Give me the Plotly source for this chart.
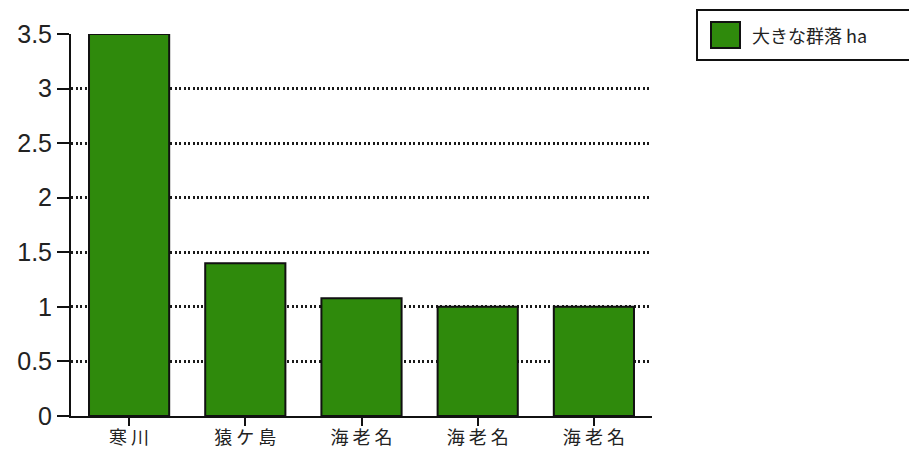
import plotly.graph_objects as go

# Areas of large colonies (ha) by site
sites = ["寒 川", "猿 ケ 島", "海 老 名", "海 老 名", "海 老 名"]
areas_ha = [3.5, 1.4, 1.08, 1.0, 1.0]
series_name = "大きな群落 ha"
y_ticks = [0, 0.5, 1, 1.5, 2, 2.5, 3, 3.5]
y_tick_text = ["0", "0.5", "1", "1.5", "2", "2.5", "3", "3.5"]

GREEN = "#2f8a0c"

fig = go.Figure()
fig.add_trace(go.Bar(
    x=list(range(len(sites))),
    y=areas_ha,
    name=series_name,
    marker=dict(color=GREEN, line=dict(color="#111111", width=2)),
    showlegend=False,
))

fig.update_layout(
    width=909, height=451,
    margin=dict(l=71, r=257, t=34, b=35),
    paper_bgcolor="white", plot_bgcolor="white",
    bargap=0.31,
    font=dict(family="Liberation Sans, Arial, sans-serif", color="#222222"),
    xaxis=dict(
        tickmode="array",
        tickvals=list(range(len(sites))),
        ticktext=sites,
        range=[-0.5, len(sites) - 0.5],
        showline=True, linecolor="#111111", linewidth=2,
        ticks="outside", ticklen=8, tickwidth=2, tickcolor="#111111",
        tickson="boundaries", ticklabelstandoff=-4,
        showgrid=False, zeroline=False, automargin=False,
        tickfont=dict(family="Noto Sans CJK JP", size=18, color="#222222"),
    ),
    yaxis=dict(
        range=[0, 3.5],
        tickmode="array", tickvals=y_ticks, ticktext=y_tick_text,
        showline=True, linecolor="#111111", linewidth=2,
        ticks="outside", ticklen=12, tickwidth=2, tickcolor="#111111",
        showgrid=True, gridcolor="#1a1a1a", gridwidth=2.5, griddash="2px,2.5px",
        zeroline=False, automargin=False,
        tickfont=dict(family="Liberation Sans, Arial, sans-serif", size=25, color="#222222"),
    ),
)

# Legend box drawn in paper coordinates
fig.add_shape(type="rect", xref="paper", yref="paper",
              x0=(697 - 71) / 581, x1=(915 - 71) / 581,
              y0=(416 - 60) / 382, y1=(416 - 10) / 382,
              line=dict(color="#111111", width=2), fillcolor="white", layer="above")
fig.add_shape(type="rect", xref="paper", yref="paper",
              x0=(711 - 71) / 581, x1=(740 - 71) / 581,
              y0=(416 - 48) / 382, y1=(416 - 22) / 382,
              line=dict(color="#111111", width=2), fillcolor=GREEN, layer="above")
fig.add_annotation(xref="paper", yref="paper",
                   x=(750 - 71) / 581, y=(416 - 35) / 382,
                   xanchor="left", yanchor="middle", showarrow=False,
                   text=series_name,
                   font=dict(family="Noto Sans CJK JP", size=18, color="#222222"))

fig.write_html("out.html")
